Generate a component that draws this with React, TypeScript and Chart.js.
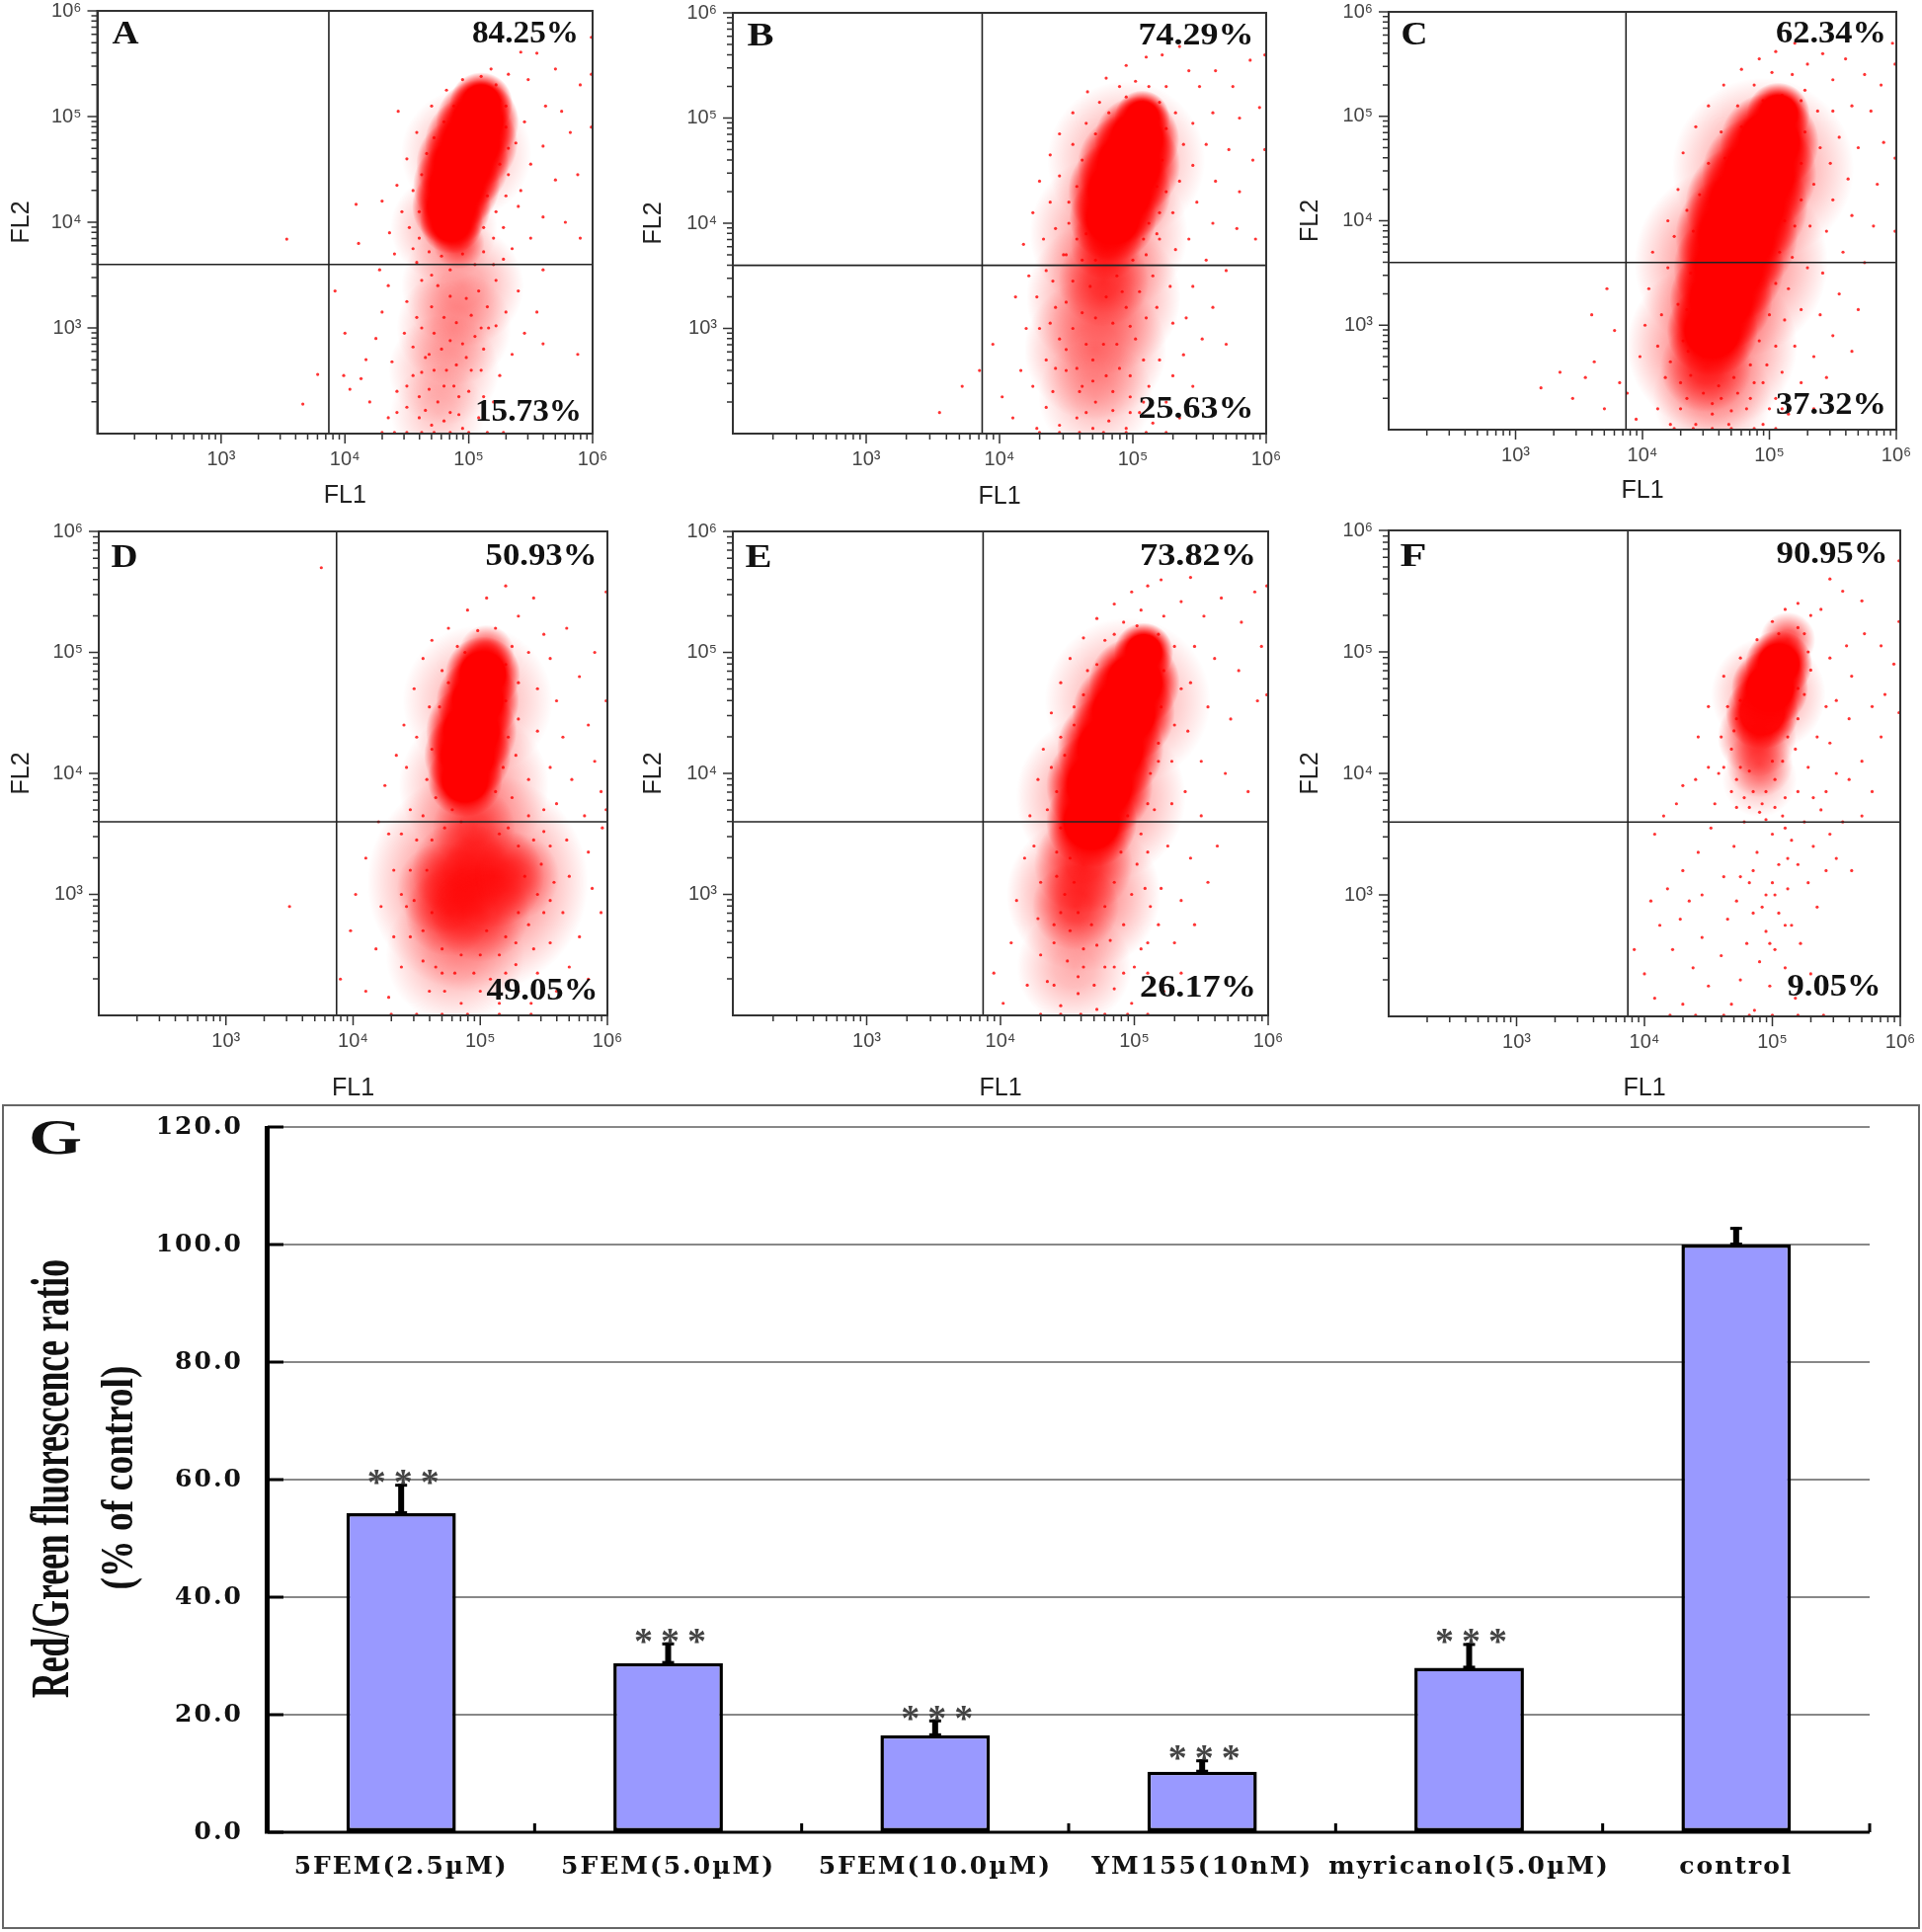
import React, { useEffect, useRef } from "react";
import { Chart, registerables } from "chart.js";

Chart.register(...registerables);

// ---------- scatter panels: values are log10(fluorescence) ----------
const panelLetters = ["A", "B", "C", "D", "E", "F"];
const upperPercent = ["84.25%", "74.29%", "62.34%", "50.93%", "73.82%", "90.95%"];
const lowerPercent = ["15.73%", "25.63%", "37.32%", "49.05%", "26.17%", "9.05%"];
const gateLogX = 3.87;
const gateLogY = 3.6;
const decadeTicks = [1e3, 1e4, 1e5, 1e6];
const decadeLabels = ["10³", "10⁴", "10⁵", "10⁶"];
const minorMultipliers = [2, 3, 4, 5, 6, 7, 8, 9];
const tickDecades = [1e2, 1e3, 1e4, 1e5];

// density masses [logX, logY, radius, opacity, solid]
const massA = [[4.98,4.65,66,.34,0],[4.8,3.95,54,.34,0],[4.95,3.4,62,.38,0],[4.88,3.0,58,.34,0],[4.8,2.6,56,.3,0],[4.75,2.2,48,.22,0],
[5.1,5.12,32,1,1],[5.07,4.95,42,1,1],[5.02,4.75,47,1,1],[4.95,4.55,47,1,1],[4.9,4.35,44,1,1],[4.86,4.15,40,1,1],[4.86,4.0,32,1,1],[4.92,3.8,26,.7,0]];
const massB = [[4.95,4.6,80,.4,0],[4.82,3.9,80,.46,0],[4.78,3.3,78,.52,0],[4.72,2.8,72,.48,0],[4.72,2.35,58,.27,0],
[5.07,5.0,28,1,1],[5.03,4.8,43,1,1],[4.97,4.55,52,1,1],[4.9,4.3,52,1,1],[4.85,4.05,44,1,1],[4.8,3.8,36,.9,0],[4.78,3.45,46,.6,0]];
const massC = [[4.95,4.5,92,.48,0],[4.7,3.6,98,.6,0],[4.55,2.8,86,.6,0],[4.55,2.3,60,.32,0],
[5.07,5.02,32,1,1],[5.0,4.75,50,1,1],[4.92,4.45,58,1,1],[4.82,4.15,62,1,1],[4.74,3.85,62,1,1],[4.68,3.55,56,1,1],[4.62,3.25,52,1,1],[4.55,2.95,46,1,1],[4.5,2.6,46,.75,0]];
const massD = [[4.98,4.6,76,.36,0],[4.95,3.9,76,.42,0],[4.98,3.1,112,.62,0],[4.8,2.5,70,.34,0],
[5.05,5.0,28,.8,0],[5.02,4.82,38,1,1],[4.98,4.6,42,1,1],[4.93,4.35,46,1,1],[4.9,4.15,44,1,1],[4.88,3.95,38,1,1],[4.95,3.55,42,.55,0],[4.7,3.05,46,.55,0],[4.85,3.2,50,.7,0],[5.1,3.15,52,.7,0],[4.75,2.85,44,.6,0],[5.0,2.85,50,.6,0],[5.28,3.15,44,.5,0]];
const massE = [[4.95,4.6,84,.4,0],[4.75,3.8,86,.5,0],[4.62,3.0,78,.52,0],[4.55,2.4,58,.32,0],
[5.07,5.0,30,1,1],[5.0,4.75,46,1,1],[4.92,4.5,52,1,1],[4.82,4.2,54,1,1],[4.74,3.9,54,1,1],[4.68,3.6,46,1,1],[4.62,3.25,50,.8,0],[4.56,2.9,44,.65,0]];
const massF = [[4.97,4.65,58,.42,0],[4.9,3.95,38,.27,0],
[5.12,5.1,28,.75,0],[5.05,4.9,34,1,1],[4.98,4.7,39,1,1],[4.92,4.5,37,.95,1],[4.88,4.3,40,.8,0],[4.9,4.08,34,.55,0]];

// individual events [logX, logY]
const eventsA = [[3.53,3.84],[3.66,2.28],[3.78,2.56],[5.42,5.61],[5.55,5.6],[4.43,5.05],[4.09,4.17],[4.11,3.8],[3.92,3.35],[4.0,2.95],[3.99,2.55],[4.04,2.42],[4.13,2.52],[4.2,2.3],[4.17,2.7],[4.25,2.9],[4.3,3.15],[4.35,3.4],[4.28,3.55],[4.4,3.7],[4.36,3.9],[4.3,4.2],[4.42,4.35],[4.5,4.6],[4.58,4.85],[4.7,5.1],[4.82,5.25],[4.95,5.35],[5.18,5.45],[5.32,5.4],[5.48,5.35],[5.7,5.45],[5.9,5.3],[5.62,5.1],[5.75,5.05],[5.45,4.95],[5.6,4.72],[5.82,4.85],[5.5,4.55],[5.7,4.4],[5.88,4.45],[5.42,4.3],[5.6,4.05],[5.78,4.0],[5.9,3.85],[5.5,3.85],[5.35,3.75],[5.6,3.55],[5.4,3.35],[5.55,3.15],[5.45,2.95],[5.6,2.85],[5.35,2.75],[5.25,2.55],[5.88,2.75],[5.2,2.3],[5.08,2.15],[4.95,2.05],[4.85,2.2],[4.7,2.08],[4.6,2.15],[4.5,2.25],[4.42,2.4],[4.55,2.55],[4.38,2.68],[4.65,2.72],[4.48,2.95],[4.58,3.1],[4.68,2.42],[4.8,2.45],[4.92,2.35],[5.02,2.6],[5.12,2.8],[4.35,2.15],[4.62,3.45],[4.5,3.25],[5.22,3.45],[5.3,3.15],[5.16,3.0],[5.28,3.65],[4.3,2.01],[4.4,2.01],[4.5,2.01],[4.62,2.01],[4.72,2.01],[4.85,2.01],[5.0,2.01],[5.15,2.01],[5.28,2.01],[5.99,5.75],[5.99,5.4],[5.99,4.9],[4.46,4.1],[4.55,3.75],[5.3,5.1],[5.38,4.75],[5.32,4.45],[5.4,4.15]];
const rimA = [[4.62,4.45],[4.55,4.3],[4.6,4.1],[4.52,3.95],[4.6,3.85],[4.68,3.72],[4.58,3.62],[4.7,3.5],[4.78,3.68],[4.85,3.55],[4.95,3.7],[5.05,3.6],[5.12,3.72],[5.2,3.6],[5.2,3.85],[5.12,3.95],[5.22,4.1],[5.15,4.25],[5.3,4.25],[5.28,3.95],[5.25,4.55],[5.32,4.7],[5.3,4.9],[5.25,5.15],[5.22,5.3],[5.1,5.38],[5.0,5.25],[4.88,5.1],[4.8,4.95],[4.72,4.8],[4.66,4.65],[4.75,3.4],[4.85,3.3],[4.98,3.28],[5.08,3.35],[5.15,3.2],[4.7,3.2],[4.8,3.1],[4.9,3.05],[5.02,3.12],[5.1,3.0],[5.22,3.02],[4.62,3.0],[4.72,2.95],[4.85,2.88],[4.95,2.85],[5.05,2.92],[4.55,2.82],[4.68,2.75],[4.78,2.8],[4.9,2.65],[4.98,2.72],[5.1,2.6],[4.62,2.58],[4.72,2.6],[4.82,2.6],[4.5,2.45],[4.6,2.35],[4.75,2.3],[4.88,2.45],[5.0,2.4],[5.12,2.35],[4.42,2.2],[4.65,2.22],[4.8,2.12],[4.92,2.18]];
const eventsB = [[3.55,2.2],[3.72,2.45],[3.85,2.6],[3.95,2.85],[4.02,2.35],[4.1,2.15],[4.16,2.6],[4.2,3.0],[4.12,3.3],[4.22,3.5],[4.18,3.8],[4.25,4.1],[4.3,4.4],[4.38,4.65],[4.45,4.85],[4.55,5.05],[4.66,5.25],[4.8,5.38],[4.95,5.5],[5.1,5.58],[5.22,5.6],[5.35,5.68],[5.42,5.45],[5.5,5.3],[5.62,5.45],[5.75,5.3],[5.88,5.55],[5.95,5.1],[5.8,5.0],[5.6,5.05],[5.45,4.95],[5.55,4.75],[5.72,4.7],[5.9,4.6],[5.45,4.55],[5.62,4.4],[5.8,4.3],[5.48,4.2],[5.6,4.0],[5.78,3.95],[5.92,3.85],[5.42,3.85],[5.55,3.65],[5.7,3.55],[5.45,3.4],[5.6,3.2],[5.4,3.1],[5.52,2.9],[5.7,2.85],[5.38,2.75],[5.3,2.55],[5.45,2.45],[5.25,2.3],[5.35,2.15],[5.15,2.1],[5.05,2.2],[4.95,2.05],[4.82,2.12],[4.7,2.05],[4.58,2.15],[4.45,2.08],[4.35,2.25],[4.28,2.05],[4.25,2.45],[4.35,2.7],[4.3,3.0],[4.28,3.3],[4.35,3.55],[4.33,3.85],[4.38,4.2],[4.45,4.45],[4.55,4.75],[4.65,4.95],[4.75,5.15],[4.9,5.3],[5.02,5.35],[5.25,5.3],[5.32,5.05],[5.38,4.75],[5.35,4.4],[5.3,4.1],[5.32,3.75],[5.28,3.4],[5.3,3.05],[5.2,2.7],[5.12,2.45],[4.98,2.35],[4.85,2.4],[4.6,2.4],[4.5,2.6],[4.45,2.9],[4.42,3.2],[4.48,3.7],[4.3,2.01],[4.45,2.01],[4.6,2.01],[4.78,2.01],[4.95,2.01],[5.1,2.01],[5.25,2.01],[5.99,5.6],[5.99,4.7],[5.2,3.85],[5.18,3.2],[4.42,3.95],[4.52,4.2]];
const rimB = [[4.52,4.0],[4.58,4.35],[4.62,4.6],[4.72,4.85],[4.82,5.05],[4.95,5.2],[5.12,5.3],[5.2,5.15],[5.25,4.9],[5.22,4.6],[5.25,4.3],[5.2,4.1],[5.18,3.9],[5.1,3.7],[5.15,3.5],[5.05,3.35],[5.1,3.1],[5.02,2.9],[5.08,2.7],[4.98,2.55],[4.9,2.62],[4.8,2.55],[4.7,2.5],[4.58,2.62],[4.5,2.8],[4.55,3.0],[4.5,3.25],[4.55,3.45],[4.5,3.7],[4.58,3.85],[4.62,3.15],[4.65,2.85],[4.68,3.4],[4.72,3.1],[4.8,3.3],[4.88,3.5],[4.95,3.2],[4.98,3.02],[4.88,2.85],[4.92,3.35],[4.7,2.7],[4.78,2.85],[4.85,3.05],[4.62,2.45],[4.72,2.3],[4.85,2.22],[4.98,2.2],[5.08,2.3],[4.65,2.2],[4.4,2.4],[4.42,2.62],[4.38,3.05],[4.4,3.45],[5.0,3.65],[5.08,3.85],[5.12,4.0],[5.18,4.35],[5.15,4.75],[4.7,4.2],[4.65,3.9],[4.72,3.65],[4.62,3.65]];
const eventsC = [[3.2,2.4],[3.35,2.55],[3.45,2.3],[3.55,2.5],[3.62,2.65],[3.7,2.2],[3.78,2.95],[3.82,2.45],[3.6,3.1],[3.72,3.35],[3.88,2.35],[3.95,2.1],[3.98,2.7],[4.02,3.0],[4.05,3.35],[4.08,3.7],[4.12,2.2],[4.18,2.5],[4.2,3.55],[4.2,4.0],[4.28,4.3],[4.32,4.65],[4.42,4.9],[4.52,5.1],[4.64,5.3],[4.78,5.45],[4.92,5.55],[5.05,5.62],[5.2,5.7],[5.3,5.5],[5.42,5.6],[5.5,5.35],[5.6,5.55],[5.75,5.4],[5.88,5.3],[5.97,5.7],[5.65,5.1],[5.5,5.05],[5.8,5.05],[5.55,4.8],[5.7,4.7],[5.9,4.75],[5.48,4.55],[5.62,4.4],[5.85,4.35],[5.5,4.2],[5.65,4.05],[5.82,3.95],[5.45,3.9],[5.58,3.7],[5.75,3.6],[5.42,3.5],[5.55,3.3],[5.7,3.15],[5.4,3.1],[5.5,2.9],[5.65,2.75],[5.35,2.7],[5.45,2.5],[5.25,2.45],[5.35,2.2],[5.15,2.15],[5.05,2.3],[4.95,2.05],[4.82,2.2],[4.68,2.05],[4.55,2.15],[4.42,2.05],[4.3,2.2],[4.22,2.05],[4.12,2.8],[4.15,3.1],[4.28,3.2],[4.25,3.85],[4.35,4.1],[5.28,5.25],[5.38,5.05],[5.4,4.7],[5.35,4.35],[5.32,3.95],[5.3,3.55],[5.25,3.15],[5.2,2.8],[5.1,2.55],[4.95,2.45],[4.25,2.01],[4.4,2.01],[4.55,2.01],[4.7,2.01],[4.88,2.01],[5.05,2.01],[5.99,5.5],[5.99,4.6],[5.99,3.9],[4.22,2.65],[4.3,2.45],[4.36,2.75],[5.1,2.2]];
const rimC = [[4.4,3.9],[4.45,4.25],[4.52,4.55],[4.62,4.85],[4.75,5.1],[4.88,5.3],[5.02,5.42],[5.18,5.4],[5.25,5.15],[5.28,4.85],[5.25,4.55],[5.25,4.2],[5.2,3.95],[5.18,3.65],[5.15,3.35],[5.12,3.05],[5.05,2.8],[4.98,2.62],[4.88,2.45],[4.75,2.35],[4.62,2.3],[4.48,2.35],[4.38,2.52],[4.32,2.85],[4.35,3.15],[4.38,3.5],[4.45,3.3],[4.42,3.02],[4.48,2.7],[4.6,2.42],[4.72,2.5],[4.85,2.62],[4.92,2.85],[5.0,3.1],[5.05,3.4],[5.08,3.7],[5.12,4.0],[5.15,4.35],[5.18,4.65],[5.1,5.2],[4.95,5.15],[4.78,4.9],[4.65,4.6],[4.55,4.2],[4.5,3.85],[4.55,2.25],[4.35,2.3],[4.85,2.3],[5.0,2.2],[4.7,2.18]];
const eventsD = [[3.5,2.9],[3.75,5.7],[3.9,2.3],[3.98,2.7],[4.02,3.0],[4.1,2.2],[4.1,3.3],[4.18,2.55],[4.2,3.6],[4.22,2.9],[4.25,3.9],[4.28,2.15],[4.32,3.2],[4.34,4.15],[4.4,4.4],[4.38,2.4],[4.45,2.65],[4.48,4.7],[4.55,4.95],[4.45,3.7],[4.6,2.2],[4.62,5.1],[4.75,5.2],[4.9,5.35],[5.05,5.45],[5.2,5.55],[5.3,5.3],[5.42,5.45],[5.5,5.15],[5.38,5.0],[5.55,4.95],[5.68,5.2],[5.45,4.7],[5.6,4.6],[5.78,4.8],[5.9,5.0],[5.45,4.35],[5.65,4.3],[5.85,4.4],[5.55,4.05],[5.72,3.95],[5.9,4.1],[5.6,3.75],[5.82,3.65],[5.95,3.85],[5.68,3.45],[5.85,3.35],[5.96,3.55],[5.7,3.15],[5.88,3.05],[5.95,2.85],[5.65,2.85],[5.78,2.65],[5.55,2.6],[5.7,2.4],[5.45,2.35],[5.85,2.3],[5.3,2.2],[5.15,2.1],[5.0,2.2],[4.85,2.1],[4.72,2.2],[5.6,2.2],[5.4,2.1],[4.55,2.45],[4.32,2.65],[4.28,3.5],[4.38,3.0],[4.42,4.05],[4.5,4.3],[4.6,4.55],[4.7,4.85],[4.82,5.05],[4.98,5.18],[5.12,5.2],[5.25,5.05],[5.3,4.75],[5.3,4.45],[5.28,4.15],[5.38,3.95],[5.5,3.7],[5.55,3.4],[5.58,3.1],[5.5,2.85],[5.42,2.55],[5.2,2.35],[4.95,2.35],[4.8,2.35],[4.65,2.4],[4.3,2.01],[4.5,2.01],[4.7,2.01],[4.9,2.01],[5.15,2.01],[5.4,2.01],[5.99,5.5],[5.99,4.6],[5.99,3.7]];
const rimD = [[4.62,4.2],[4.58,3.95],[4.68,4.55],[4.75,4.75],[4.88,5.0],[5.2,4.9],[5.2,4.6],[5.22,4.3],[5.18,4.05],[5.12,3.85],[5.25,3.8],[5.38,3.65],[5.42,3.45],[5.48,3.25],[5.45,3.0],[5.38,2.75],[5.28,2.6],[5.15,2.5],[5.0,2.5],[4.85,2.5],[4.7,2.55],[4.55,2.7],[4.48,2.95],[4.45,3.2],[4.5,3.45],[4.55,3.65],[4.65,3.8],[4.78,3.7],[4.62,3.45],[4.58,3.2],[4.62,2.85],[5.3,3.4],[5.35,3.15],[5.3,2.85],[5.2,2.65],[5.05,2.7],[4.72,3.55],[4.85,3.6],[5.15,3.5],[5.22,3.55],[4.38,3.5],[4.42,2.9],[4.7,2.35],[5.08,2.3],[5.28,2.42],[5.5,3.52],[5.55,2.95]];
const eventsE = [[3.95,2.35],[4.02,2.1],[4.08,2.6],[4.12,2.95],[4.18,3.3],[4.2,2.25],[4.22,3.65],[4.28,3.95],[4.3,2.5],[4.32,4.2],[4.38,4.5],[4.45,4.75],[4.52,4.95],[4.62,5.12],[4.72,5.28],[4.85,5.4],[4.98,5.5],[5.1,5.55],[5.2,5.6],[5.35,5.42],[5.42,5.62],[5.52,5.3],[5.65,5.45],[5.8,5.25],[5.9,5.5],[5.95,5.05],[5.45,5.05],[5.6,4.95],[5.78,4.85],[5.42,4.75],[5.55,4.55],[5.72,4.45],[5.92,4.6],[5.4,4.35],[5.5,4.1],[5.68,4.0],[5.85,3.85],[5.38,3.85],[5.5,3.65],[5.62,3.4],[5.42,3.3],[5.55,3.1],[5.35,2.95],[5.45,2.75],[5.3,2.6],[5.35,2.35],[5.22,2.2],[5.1,2.35],[4.98,2.1],[4.85,2.22],[4.72,2.05],[4.58,2.18],[4.45,2.08],[4.35,2.28],[4.4,2.6],[4.28,2.8],[4.3,3.1],[4.25,3.4],[4.35,3.7],[4.38,4.05],[4.45,4.3],[4.55,4.55],[4.65,4.85],[4.78,5.1],[4.92,5.25],[5.05,5.35],[5.22,5.3],[5.3,5.05],[5.35,4.7],[5.3,4.4],[5.28,4.1],[5.28,3.75],[5.25,3.4],[5.2,3.05],[5.18,2.75],[5.05,2.55],[4.92,2.35],[4.78,2.4],[4.62,2.4],[4.5,2.45],[4.45,2.85],[4.42,3.15],[4.45,3.55],[4.3,2.01],[4.45,2.01],[4.6,2.01],[4.78,2.01],[4.95,2.01],[5.1,2.01],[5.99,5.55],[5.99,4.65],[5.12,2.9],[5.1,3.35],[5.15,3.7],[5.18,4.1]];
const rimE = [[4.42,3.85],[4.48,4.15],[4.55,4.4],[4.62,4.65],[4.72,4.9],[4.85,5.15],[5.02,5.22],[5.18,5.15],[5.22,4.85],[5.2,4.55],[5.18,4.25],[5.12,4.0],[5.1,3.75],[5.05,3.5],[5.02,3.25],[4.98,3.0],[4.92,2.75],[4.82,2.62],[4.72,2.58],[4.62,2.55],[4.52,2.7],[4.48,3.0],[4.52,3.3],[4.5,3.6],[4.58,2.85],[4.68,2.75],[4.78,2.9],[4.85,3.1],[4.9,3.35],[4.95,3.65],[4.55,3.1],[4.42,3.35],[4.4,2.75],[4.58,2.32],[4.7,2.25],[4.85,2.4],[5.0,2.4],[4.4,2.25],[5.1,2.6],[5.08,3.05]];
const eventsF = [[3.92,2.55],[4.0,2.35],[4.05,2.95],[4.08,2.15],[4.12,2.75],[4.18,3.05],[4.22,2.55],[4.28,2.8],[4.3,2.1],[4.3,3.2],[4.35,2.95],[4.38,2.4],[4.42,3.35],[4.45,2.65],[4.45,3.0],[4.5,2.25],[4.52,3.55],[4.55,3.75],[4.6,2.5],[4.62,3.15],[4.65,2.8],[4.68,2.1],[4.7,3.4],[4.72,2.95],[4.75,2.3],[4.78,3.6],[4.8,2.6],[4.82,3.1],[4.85,2.85],[4.86,2.05],[4.88,3.35],[4.9,2.45],[4.92,3.75],[4.95,2.7],[4.95,3.0],[4.98,2.25],[5.0,3.5],[5.02,2.55],[5.05,3.25],[5.05,2.85],[5.08,3.65],[5.1,2.4],[5.12,3.05],[5.15,2.75],[5.15,3.45],[5.18,2.15],[5.2,3.25],[5.22,2.6],[5.25,3.6],[5.28,3.1],[5.3,2.35],[5.32,3.4],[5.35,2.9],[5.38,3.7],[5.42,3.2],[5.45,3.5],[5.5,3.3],[5.55,3.6],[5.62,3.2],[5.7,3.65],[5.78,3.85],[5.85,4.3],[5.7,4.1],[5.6,3.95],[5.5,4.0],[5.42,3.85],[5.32,3.8],[5.2,3.85],[5.45,4.25],[5.6,4.45],[5.78,4.55],[5.88,4.65],[5.5,4.6],[5.62,4.8],[5.42,4.55],[5.35,4.3],[5.28,4.05],[5.45,4.95],[5.58,5.05],[5.72,5.15],[5.85,5.05],[5.95,4.9],[5.7,5.42],[5.55,5.5],[5.45,5.6],[5.38,5.35],[5.3,5.3],[5.2,5.4],[5.1,5.35],[5.0,5.25],[4.88,5.1],[4.75,4.95],[4.62,4.8],[4.5,4.55],[4.42,4.3],[4.5,4.05],[4.58,4.0],[4.4,3.95],[4.3,3.9],[4.25,3.75],[4.15,3.65],[4.08,3.5],[4.68,3.85],[4.72,4.45],[4.6,4.3],[5.2,4.7],[5.3,4.85],[5.25,5.15],[4.2,2.01],[4.4,2.01],[4.62,2.01],[4.82,2.01],[5.0,2.01],[5.2,2.01],[5.4,2.01],[5.99,5.75],[5.99,5.25],[5.99,4.5]];
const rimF = [[4.65,4.55],[4.68,4.2],[4.62,4.05],[4.72,3.95],[4.78,3.8],[4.85,3.85],[4.95,3.85],[5.02,3.95],[5.08,4.1],[5.12,4.3],[5.2,4.45],[5.25,4.65],[5.28,5.0],[5.2,5.2],[5.05,5.15],[4.92,4.95],[4.82,4.75],[4.75,4.6],[4.7,4.35],[4.75,4.05],[4.82,4.02],[5.0,4.1],[5.1,3.8],[5.18,4.2],[5.02,3.72],[4.9,3.68],[4.82,3.72],[4.72,3.72],[4.95,3.62],[5.1,3.55],[4.85,3.2],[4.75,3.15],[5.0,3.1],[5.12,3.3],[4.92,2.9],[5.02,3.0],[4.98,2.6],[5.1,2.75]];

const masses = [massA, massB, massC, massD, massE, massF];
const events = [
  [...eventsA, ...rimA],
  [...eventsB, ...rimB],
  [...eventsC, ...rimC],
  [...eventsD, ...rimD],
  [...eventsE, ...rimE],
  [...eventsF, ...rimF],
];

// ---------- bar panel ----------
const barCategories = ["5FEM(2.5µM)", "5FEM(5.0µM)", "5FEM(10.0µM)", "YM155(10nM)", "myricanol(5.0µM)", "control"];
const barValues = [54.3, 28.8, 16.5, 10.3, 28.0, 100.0];
const barErrorTops = [59.3, 32.3, 19.2, 12.4, 32.2, 103.0];
const barStars = ["***", "***", "***", "***", "***", ""];
const yTitleLines = ["Red/Green fluorescence ratio", "(% of control)"];

// ---------- layout on the page ----------
const plots = [
  { L: 98.5, R: 600, T: 11, B: 439, titleX: 22, titleY: 502 },
  { L: 742, R: 1282, T: 13, B: 439, titleX: 662, titleY: 503 },
  { L: 1406, R: 1920, T: 12, B: 435, titleX: 1327, titleY: 497 },
  { L: 100, R: 615, T: 538, B: 1028, titleX: 22, titleY: 1102 },
  { L: 742, R: 1284, T: 538, B: 1028, titleX: 662, titleY: 1102 },
  { L: 1406, R: 1924, T: 537, B: 1029, titleX: 1327, titleY: 1102 },
];
const labelSpots = [
  { up: [532, 35, 108], low: [535, 418, 108], let: [127, 35] },
  { up: [1211, 37, 117], low: [1211, 415, 117], let: [770, 37] },
  { up: [1854, 35, 112], low: [1854, 411, 112], let: [1432, 36] },
  { up: [548, 564, 113], low: [549, 1004, 113], let: [126, 565] },
  { up: [1213, 564, 118], low: [1213, 1001, 118], let: [768, 565] },
  { up: [1855, 562, 113], low: [1857, 1000, 95], let: [1431, 564] },
];

const SERIF = '"Liberation Serif", serif';
const SANS = '"Liberation Sans", sans-serif';

function stretchedText(ctx: any, text: string, cx: number, cy: number, width: number, font: string, rot = 0, color = "#111") {
  ctx.save();
  ctx.font = font;
  ctx.fillStyle = color;
  ctx.letterSpacing = "0px";
  ctx.translate(cx, cy);
  ctx.rotate(rot);
  const w = ctx.measureText(text).width;
  ctx.scale(width / w, 1);
  ctx.textAlign = "center";
  ctx.textBaseline = "middle";
  ctx.fillText(text, 0, 0);
  ctx.restore();
}

function massFill(c: any) {
  const raw = c.raw;
  if (!raw) return "rgba(255,0,0,0)";
  const px = c.chart.scales.x.getPixelForValue(raw.x);
  const py = c.chart.scales.y.getPixelForValue(raw.y);
  if (!Number.isFinite(px) || !Number.isFinite(py)) return "rgba(255,0,0,0)";
  const g = c.chart.ctx.createRadialGradient(px, py, 0, px, py, raw.r);
  g.addColorStop(0, `rgba(255,0,0,${raw.a})`);
  g.addColorStop(raw.s ? 0.6 : 0.35, `rgba(255,0,0,${raw.s ? raw.a : raw.a * 0.8})`);
  g.addColorStop(1, "rgba(255,0,0,0)");
  return g;
}

function makeScatter(canvas: HTMLCanvasElement, i: number, left: number, top: number) {
  const p = plots[i];
  const spot = labelSpots[i];
  const tickList = [
    ...tickDecades.flatMap((d) => minorMultipliers.map((m) => m * d)),
    ...decadeTicks,
  ].sort((a, b) => a - b);
  const axisTicks = (s: any) => {
    s.ticks = tickList.map((value) => ({ value }));
  };
  const label = (v: any) => {
    const k = decadeTicks.indexOf(Number(v));
    return k >= 0 ? decadeLabels[k] : "";
  };
  const scaleCommon = {
    type: "logarithmic",
    min: 100,
    max: 1e6,
    afterBuildTicks: axisTicks,
    border: { display: true, color: "#333", width: 2 },
  };
  const decor = {
    id: "decor",
    afterDraw(chart: any) {
      const { ctx, chartArea: a, scales } = chart;
      ctx.save();
      ctx.strokeStyle = "#333";
      ctx.lineWidth = 2;
      ctx.strokeRect(a.left, a.top, a.right - a.left, a.bottom - a.top);
      ctx.lineWidth = 1.5;
      for (const v of tickList) {
        const size = decadeTicks.includes(v) ? 10 : 6;
        const x = scales.x.getPixelForValue(v);
        const y = scales.y.getPixelForValue(v);
        ctx.beginPath();
        ctx.moveTo(x, a.bottom);
        ctx.lineTo(x, a.bottom + size);
        ctx.moveTo(a.left, y);
        ctx.lineTo(a.left - size, y);
        ctx.stroke();
      }
      ctx.restore();
      const pct = `bold 31px ${SERIF}`;
      stretchedText(ctx, upperPercent[i], spot.up[0] - left, spot.up[1] - top, spot.up[2], pct);
      stretchedText(ctx, lowerPercent[i], spot.low[0] - left, spot.low[1] - top, spot.low[2], pct);
      stretchedText(ctx, panelLetters[i], spot.let[0] - left, spot.let[1] - top, 27, `bold 33px ${SERIF}`);
    },
  };
  const gateLow = 100;
  const gateHigh = 1e6;
  return new Chart(canvas, {
    type: "scatter",
    data: {
      datasets: [
        {
          label: "gate x",
          data: [
            { x: 10 ** gateLogX, y: gateLow },
            { x: 10 ** gateLogX, y: gateHigh },
          ],
          showLine: true,
          pointRadius: 0,
          borderColor: "#222",
          borderWidth: 1.6,
        },
        {
          label: "gate y",
          data: [
            { x: gateLow, y: 10 ** gateLogY },
            { x: gateHigh, y: 10 ** gateLogY },
          ],
          showLine: true,
          pointRadius: 0,
          borderColor: "#222",
          borderWidth: 1.6,
        },
        {
          label: "events",
          data: events[i].map(([x, y]) => ({ x: 10 ** x, y: 10 ** y })),
          pointRadius: 1.6,
          borderWidth: 0,
          backgroundColor: "rgba(255,0,0,0.8)",
        },
        {
          label: "density",
          data: masses[i].map(([x, y, r, a, s]) => ({ x: 10 ** x, y: 10 ** y, r, a, s })),
          pointRadius: (c: any) => c.raw?.r ?? 0,
          borderWidth: 0,
          backgroundColor: massFill,
        },
      ],
    },
    options: {
      animation: false,
      responsive: false,
      devicePixelRatio: 1,
      events: [],
      layout: { autoPadding: false, padding: { top: p.T - top, right: 34, left: 0, bottom: 0 } },
      plugins: { legend: { display: false }, tooltip: { enabled: false }, title: { display: false } },
      scales: {
        x: {
          ...scaleCommon,
          grid: { drawOnChartArea: false, drawTicks: true, tickLength: 6, tickColor: "transparent" },
          afterFit: (s: any) => {
            s.height = canvas.height - (p.B - top);
          },
          ticks: { autoSkip: false, maxRotation: 0, minRotation: 0, callback: label, padding: 8, color: "#444", font: { family: SANS, size: 20 } },
          title: { display: true, text: "FL1", color: "#222", padding: 0, font: { family: SANS, size: 25 } },
        },
        y: {
          ...scaleCommon,
          grid: { drawOnChartArea: false, drawTicks: true, tickLength: 16, tickColor: "transparent" },
          afterFit: (s: any) => {
            s.width = p.L - left;
          },
          ticks: { autoSkip: false, callback: label, padding: 0, color: "#444", font: { family: SANS, size: 20 } },
          title: { display: true, text: "FL2", color: "#222", padding: 0, font: { family: SANS, size: 25 } },
        },
      },
    } as any,
    plugins: [decor],
  } as any);
}

const G = { left: 0, top: 1110, width: 1946, height: 846, L: 271, R: 1893, T: 1141, B: 1855 };

function makeBars(canvas: HTMLCanvasElement) {
  const decor = {
    id: "barDecor",
    beforeDraw(chart: any) {
      chart.ctx.letterSpacing = "2px";
    },
    afterDatasetsDraw(chart: any) {
      const { ctx, chartArea: a, scales } = chart;
      ctx.save();
      // error bars and significance marks
      barCategories.forEach((_, i) => {
        const x = scales.x.getPixelForValue(i);
        const y0 = scales.y.getPixelForValue(barValues[i]);
        const y1 = scales.y.getPixelForValue(barErrorTops[i]);
        ctx.fillStyle = "#000";
        ctx.fillRect(x - 3, y1, 6, y0 - y1);
        ctx.fillRect(x - 6, y1, 12, 3);
        ctx.fillRect(x - 6, y0 - 2, 12, 3);
        if (barStars[i]) {
          ctx.font = `bold 38px ${SERIF}`;
          ctx.fillStyle = "#444";
          ctx.textAlign = "center";
          ctx.textBaseline = "alphabetic";
          (ctx as any).letterSpacing = "8px";
          ctx.fillText(barStars[i], x + 6, y1 + 11);
        }
      });
      // inner tick marks
      ctx.fillStyle = "#000";
      for (let v = 0; v <= 120; v += 20) {
        const y = scales.y.getPixelForValue(v);
        ctx.fillRect(a.left, y - 1.5, 16, 3);
      }
      for (let i = 0; i <= barCategories.length; i++) {
        const x = a.left + ((a.right - a.left) * i) / barCategories.length;
        ctx.fillRect(x - 1.5, a.bottom - 9, 3, 9);
      }
      ctx.fillRect(a.left - 3, a.top - 1, 5, a.bottom - a.top + 2);
      ctx.fillRect(a.left - 3, a.bottom - 1.5, a.right - a.left + 3, 3);
      ctx.restore();
    },
    afterDraw(chart: any) {
      const { ctx } = chart;
      ctx.save();
      ctx.strokeStyle = "#666";
      ctx.lineWidth = 2;
      ctx.strokeRect(3, 1119 - G.top, 1940, 1952 - 1119);
      ctx.restore();
      const upright = -Math.PI / 2;
      stretchedText(ctx, yTitleLines[0], 55, 1497 - G.top, 444, `bold 54px ${SERIF}`, upright);
      stretchedText(ctx, yTitleLines[1], 122, 1496 - G.top, 227, `bold 46px ${SERIF}`, upright);
      stretchedText(ctx, "G", 56, 1155 - G.top, 54, `bold 50px ${SERIF}`);
    },
  };
  return new Chart(canvas, {
    type: "bar",
    data: {
      labels: barCategories,
      datasets: [
        {
          label: "Red/Green fluorescence ratio",
          data: barValues,
          backgroundColor: "#9999FF",
          borderColor: "#000",
          borderWidth: 3.5,
          borderSkipped: false,
          barPercentage: 0.41,
          categoryPercentage: 1,
        },
      ],
    },
    options: {
      animation: false,
      responsive: false,
      devicePixelRatio: 1,
      events: [],
      layout: { autoPadding: false, padding: { top: G.T - G.top, right: G.width - G.R, left: 0, bottom: 0 } },
      plugins: { legend: { display: false }, tooltip: { enabled: false }, title: { display: false } },
      scales: {
        x: {
          afterFit: (s: any) => {
            s.height = G.top + G.height - G.B;
          },
          grid: { display: false },
          border: { display: false },
          ticks: {
            autoSkip: false,
            maxRotation: 0,
            minRotation: 0,
            padding: 12,
            color: "#111",
            font: { family: '"DejaVu Serif", serif', weight: "bold", size: 25 },
          },
        },
        y: {
          min: 0,
          max: 120,
          afterFit: (s: any) => {
            s.width = G.L - G.left;
          },
          grid: { color: "#888", lineWidth: 2, drawTicks: true, tickLength: 25, tickColor: "transparent" },
          border: { display: false },
          ticks: {
            stepSize: 20,
            padding: 0,
            color: "#111",
            callback: (v: any) => Number(v).toFixed(1),
            font: { family: '"DejaVu Serif", serif', weight: "bold", size: 25 },
          },
        },
      },
    } as any,
    plugins: [decor],
  } as any);
}

function box(i: number) {
  const p = plots[i];
  const left = Math.floor(p.titleX - 15);
  const top = p.T - 14;
  const right = p.R + 34;
  const bottom = Math.ceil(p.titleY + 15);
  return { left, top, width: right - left, height: bottom - top };
}

export default function App() {
  const refs = useRef<(HTMLCanvasElement | null)[]>([]);
  const barRef = useRef<HTMLCanvasElement | null>(null);
  useEffect(() => {
    const charts: any[] = [];
    panelLetters.forEach((_, i) => {
      const c = refs.current[i];
      const b = box(i);
      if (c) charts.push(makeScatter(c, i, b.left, b.top));
    });
    if (barRef.current) charts.push(makeBars(barRef.current));
    return () => charts.forEach((c) => c.destroy());
  }, []);
  return (
    <div style={{ position: "absolute", left: 0, top: 0, width: 1946, height: 1956, background: "#fff", overflow: "hidden" }}>
      <canvas ref={barRef} width={G.width} height={G.height} style={{ position: "absolute", left: G.left, top: G.top }} />
      {panelLetters.map((n, i) => {
        const b = box(i);
        return (
          <canvas
            key={n}
            ref={(el) => {
              refs.current[i] = el;
            }}
            width={b.width}
            height={b.height}
            style={{ position: "absolute", left: b.left, top: b.top }}
          />
        );
      })}
    </div>
  );
}
